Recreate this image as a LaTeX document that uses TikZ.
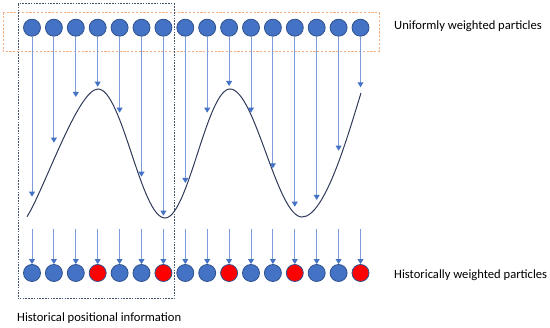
\documentclass[tikz,border=0pt]{standalone}
\usepackage{fontspec}
\setmainfont{Carlito}
\usetikzlibrary{arrows.meta}
\definecolor{pblue}{RGB}{68,114,196}
\definecolor{pedge}{RGB}{47,82,143}
\definecolor{pred}{RGB}{255,0,0}
\definecolor{aline}{RGB}{125,156,218}
\definecolor{orangebox}{RGB}{244,177,131}
\definecolor{navybox}{RGB}{68,84,106}
\definecolor{curvecol}{RGB}{47,59,90}
\begin{document}
\begin{tikzpicture}[x=1pt,y=-1pt,
  particle/.style={circle,draw=pedge,fill=pblue,line width=0.8pt,minimum size=17pt,inner sep=0pt},
  redparticle/.style={particle,fill=pred},
  flow/.style={draw=aline,line width=1pt,-{Triangle[length=5pt,width=5.8pt,color=pblue]}},
  label/.style={anchor=west,inner sep=0pt,font=\fontsize{12.6}{15}\selectfont},
  wave/.style={draw=curvecol,line width=1pt},
  groupbox/.style={draw=orangebox,line width=0.8pt,dash pattern=on 2.2pt off 1.6pt},
  historybox/.style={draw=navybox,line width=1pt,dash pattern=on 1.6pt off 1.2pt}]
\useasboundingbox (0,0) rectangle (550,328);
% boxes
\draw[groupbox] (3,12.5) rectangle (379,51.7);
\draw[historybox] (18,4) rectangle (174,299);
% curve
\draw[wave] (27,216.7) .. controls (44,190) and (78,89) .. (98,89)
  .. controls (122,89) and (141,218) .. (165,218)
  .. controls (188,218) and (207,89) .. (230,89)
  .. controls (255,89) and (277,217) .. (302,217)
  .. controls (325,217) and (348,135) .. (361,93);
% particles and arrows
\foreach \i/\ty in {1/196.7,2/142.7,3/97,4/86.7,5/112.7,6/176.7,7/215.7,8/183,
                    9/112.7,10/86,11/112.7,12/168.3,13/206.7,14/200,15/150.7,16/87.3}{
  \pgfmathsetmacro{\px}{32+21.9*(\i-1)}
  \node[particle] (t\i) at (\px,27.7) {};
  \coordinate (c\i) at (\px,\ty);
  \draw[flow] (t\i.south) -- (c\i);
  \coordinate (a\i) at (\px,229);
}
\foreach \i in {1,2,3,5,6,8,9,11,12,14,15}{
  \pgfmathsetmacro{\px}{32+21.9*(\i-1)}
  \node[particle] (b\i) at (\px,273) {};
}
\foreach \i in {4,7,10,13,16}{
  \pgfmathsetmacro{\px}{32+21.9*(\i-1)}
  \node[redparticle] (b\i) at (\px,273) {};
}
\foreach \i in {1,...,16}{
  \draw[flow] (a\i) -- (b\i.north);
}
% labels
\node[label] (uni) at (394,26) {Uniformly weighted particles};
\node[label] (hist) at (394,275) {Historically weighted particles};
\node[label] (pos) at (17,318) {Historical positional information};
\end{tikzpicture}
\end{document}
